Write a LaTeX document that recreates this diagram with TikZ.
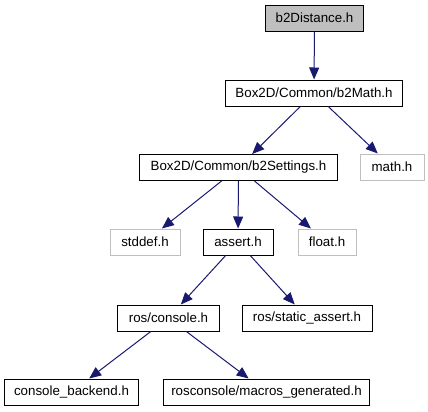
\documentclass[tikz,border=0pt]{standalone}
\usepackage{fontspec}
\setmainfont{Liberation Sans}
\usepackage{xcolor}
\usetikzlibrary{arrows.meta,positioning}
\definecolor{edgeblue}{HTML}{191970}
\definecolor{extgray}{HTML}{BFBFBF}

\begin{document}
\begin{tikzpicture}[
  x=0.75pt,y=-0.75pt,
  hdr/.style={rectangle,draw=black,line width=0.75pt,minimum height=19.5pt,
              inner sep=0pt,font=\fontsize{10}{12}\selectfont},
  cur/.style={hdr,fill=extgray},
  ext/.style={hdr,draw=extgray},
  inc/.style={-{Triangle[length=9pt,width=7.5pt]},edgeblue,line width=0.75pt}
]
\useasboundingbox (0,0) rectangle (428,411);
% files
\node[cur,minimum width=74pt]   (dist)     at (314.5,18)  {b2Distance.h};
\node[hdr,minimum width=133pt]  (b2math)   at (314,93)    {Box2D/Common/b2Math.h};
\node[ext,minimum width=48pt]   (mathh)    at (392,167)   {math.h};
\node[hdr,minimum width=148pt]  (settings) at (238.5,167.5) {Box2D/Common/b2Settings.h};
\node[ext,minimum width=52.5pt] (stddef)   at (145,242)   {stddef.h};
\node[hdr,minimum width=52.5pt] (assert)   at (238,242)   {assert.h};
\node[ext,minimum width=43.5pt] (floath)   at (327,242)   {float.h};
\node[hdr,minimum width=76pt]   (console)  at (168.5,318) {ros/console.h};
\node[hdr,minimum width=97.5pt] (static)   at (307,318)   {ros/static\_assert.h};
\node[hdr,minimum width=100pt]  (backend)  at (71.5,392)  {console\_backend.h};
\node[hdr,minimum width=155pt]  (macros)   at (266.5,392) {rosconsole/macros\_generated.h};
% includes
\draw[inc] (dist) -- (b2math);
\draw[inc] (b2math) -- (settings);
\draw[inc] (b2math) -- (mathh);
\draw[inc] (settings) -- (stddef);
\draw[inc] (settings) -- (assert);
\draw[inc] (settings) -- (floath);
\draw[inc] (assert) -- (console);
\draw[inc] (assert) -- (static);
\draw[inc] (console) -- (backend);
\draw[inc] (console) -- (macros);
\end{tikzpicture}
\end{document}
